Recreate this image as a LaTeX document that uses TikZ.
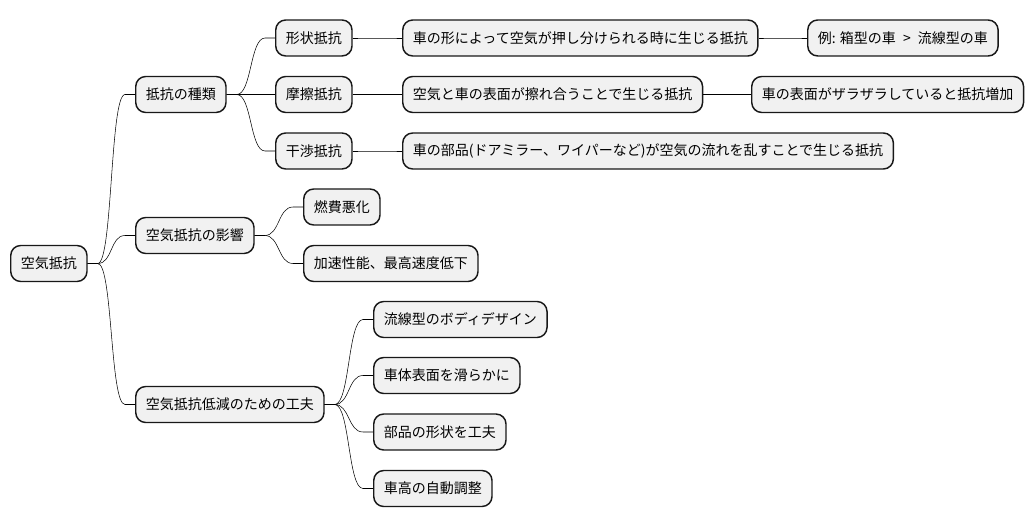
\documentclass[tikz,border=0pt]{standalone}
\usepackage{fontspec}
\usepackage{xcolor}
\usepackage{tikz}
\setmainfont{Noto Sans CJK JP}
\definecolor{topicfill}{HTML}{F1F1F1}
\definecolor{topicline}{HTML}{181818}

\begin{document}
\begin{tikzpicture}[x=0.75pt, y=-0.75pt,
    topic/.style={draw=topicline, line width=1.1pt, fill=topicfill, rounded corners=7.5pt,
      anchor=west, minimum height=27pt, inner xsep=7.6pt, font=\fontsize{10.5}{12}\selectfont},
    branch/.style={draw=topicline, line width=0.8pt,
      to path={-- ++(10,0) .. controls +(15,0) and +(-15,0) .. ([xshift=-7.5pt]\tikztotarget) -- (\tikztotarget)}}]
            \useasboundingbox (0,0) rectangle (1034,527);

            \node[topic] (root) at (10,263.5) {空気抵抗};

            \node[topic] (kinds) at (135,94.5) {抵抗の種類};
            \node[topic] (shape) at (275,38) {形状抵抗};
            \node[topic] (friction) at (275,94.5) {摩擦抵抗};
            \node[topic] (interf) at (275,151) {干渉抵抗};
            \node[topic] (shapedef) at (402,38) {車の形によって空気が押し分けられる時に生じる抵抗};
            \node[topic] (shapeex) at (807,38) {例: 箱型の車\hspace{3pt} > \hspace{3pt}流線型の車};
            \node[topic] (frictiondef) at (402,94.5) {空気と車の表面が擦れ合うことで生じる抵抗};
            \node[topic] (frictionex) at (751,94.5) {車の表面がザラザラしていると抵抗増加};
            \node[topic] (interfdef) at (402,151) {車の部品(ドアミラー、ワイパーなど)が空気の流れを乱すことで生じる抵抗};

            \node[topic] (effects) at (135,235.5) {空気抵抗の影響};
            \node[topic] (fuel) at (303,207) {燃費悪化};
            \node[topic] (speed) at (303,263.5) {加速性能、最高速度低下};

            \node[topic] (measures) at (135,404.5) {空気抵抗低減のための工夫};
            \node[topic] (body) at (373,319.5) {流線型のボディデザイン};
            \node[topic] (surface) at (373,375.5) {車体表面を滑らかに};
            \node[topic] (parts) at (373,432) {部品の形状を工夫};
            \node[topic] (height) at (373,488.5) {車高の自動調整};

            \draw (root.east) to[branch] (kinds.west);
            \draw (root.east) to[branch] (effects.west);
            \draw (root.east) to[branch] (measures.west);

            \draw (kinds.east) to[branch] (shape.west);
            \draw (kinds.east) to[branch] (friction.west);
            \draw (kinds.east) to[branch] (interf.west);
            \draw (shape.east) to[branch] (shapedef.west);
            \draw (shapedef.east) to[branch] (shapeex.west);
            \draw (friction.east) to[branch] (frictiondef.west);
            \draw (frictiondef.east) to[branch] (frictionex.west);
            \draw (interf.east) to[branch] (interfdef.west);

            \draw (effects.east) to[branch] (fuel.west);
            \draw (effects.east) to[branch] (speed.west);

            \draw (measures.east) to[branch] (body.west);
            \draw (measures.east) to[branch] (surface.west);
            \draw (measures.east) to[branch] (parts.west);
            \draw (measures.east) to[branch] (height.west);
        \end{tikzpicture}
\end{document}
